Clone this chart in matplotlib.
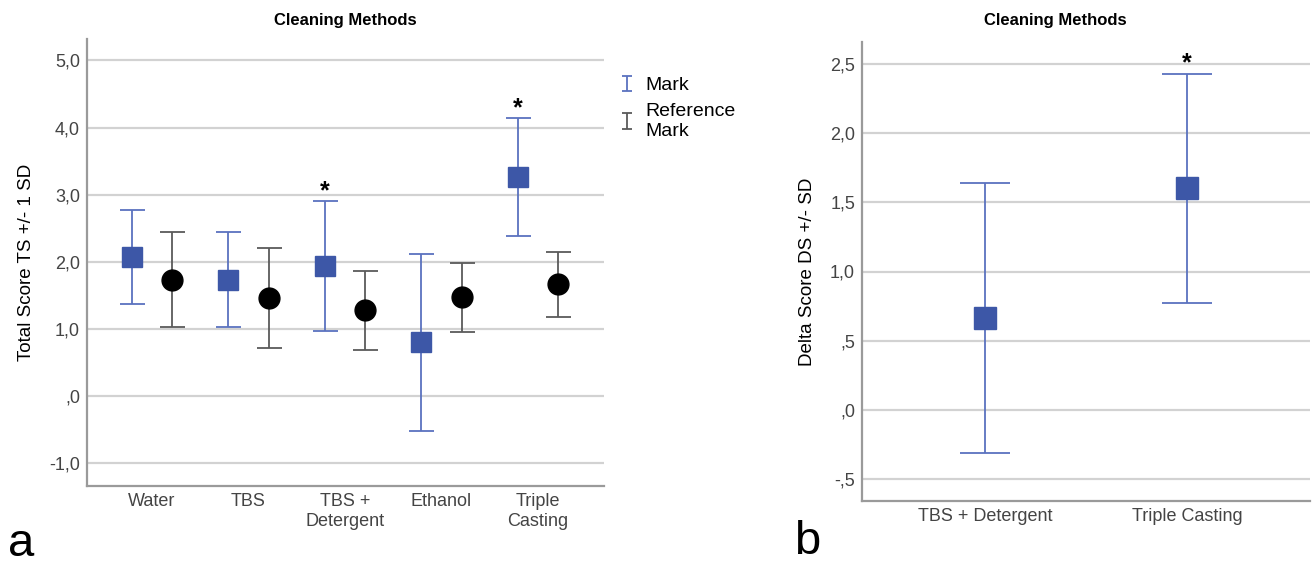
import numpy as np
import matplotlib
matplotlib.use("Agg")
import matplotlib.pyplot as plt
from matplotlib.legend_handler import HandlerErrorbar

plt.rcParams["font.family"] = ["Liberation Sans", "DejaVu Sans"]

# Data (panel a): mean and SD per cleaning method
methods_a = ["Water", "TBS", "TBS +\nDetergent", "Ethanol", "Triple\nCasting"]
mark_mean = [2.07, 1.735, 1.935, 0.80, 3.265]
mark_sd = [0.705, 0.705, 0.965, 1.32, 0.875]
ref_mean = [1.735, 1.465, 1.275, 1.47, 1.665]
ref_sd = [0.705, 0.745, 0.595, 0.52, 0.485]
star_a = [False, False, True, False, True]
yticks_a = [-1, 0, 1, 2, 3, 4, 5]
yticklabels_a = ["-1,0", ",0", "1,0", "2,0", "3,0", "4,0", "5,0"]

# Data (panel b): delta score
methods_b = ["TBS + Detergent", "Triple Casting"]
delta_mean = [0.666, 1.601]
delta_sd = [0.976, 0.831]
star_b = [False, True]
yticks_b = [-0.5, 0, 0.5, 1.0, 1.5, 2.0, 2.5]
yticklabels_b = ["-,5", ",0", ",5", "1,0", "1,5", "2,0", "2,5"]

blue = "#3d57a7"
blue_bar = "#5a72bf"
gray_bar = "#5a5a5a"
grid_c = "#d2d2d2"
spine_c = "#9a9a9a"
tick_c = "#444444"

fig = plt.figure(figsize=(13.12, 5.67), dpi=100)
ax1 = fig.add_axes([87 / 1312, 81 / 567, 517 / 1312, 447 / 567])
ax2 = fig.add_axes([862 / 1312, 66 / 567, 448 / 1312, 459 / 567])


def style_axis(ax, yticks, yticklabels):
    ax.set_yticks(yticks)
    ax.set_yticklabels(yticklabels, fontsize=13, color=tick_c)
    ax.tick_params(axis="both", length=0, pad=5)
    ax.tick_params(axis="x", pad=5, labelsize=13, labelcolor=tick_c)
    ax.grid(axis="y", color=grid_c, linewidth=1.6)
    ax.set_axisbelow(True)
    for s in ["top", "right"]:
        ax.spines[s].set_visible(False)
    for s in ["left", "bottom"]:
        ax.spines[s].set_color(spine_c)
        ax.spines[s].set_linewidth(1.6)


# Panel a
x = np.arange(len(methods_a))
off = 0.21
ax1.errorbar(x - off, mark_mean, yerr=mark_sd, fmt="none", ecolor=blue_bar,
             elinewidth=1.3, capsize=9, capthick=1.3, zorder=3)
ax1.plot(x - off, mark_mean, "s", color=blue, markersize=14.5, zorder=4)
ax1.errorbar(x + off, ref_mean, yerr=ref_sd, fmt="none", ecolor=gray_bar,
             elinewidth=1.3, capsize=9, capthick=1.3, zorder=3)
ax1.plot(x + off, ref_mean, "o", color="black", markersize=15, zorder=4)
for i, s in enumerate(star_a):
    if s:
        ax1.annotate("*", (x[i] - off, mark_mean[i] + mark_sd[i]), xytext=(0, 7),
                     textcoords="offset points", ha="center", va="center",
                     fontsize=18, fontweight="bold")
ax1.set_xticks(x)
ax1.set_xticklabels(methods_a, linespacing=1.2)
ax1.set_xlim(-0.674, 4.684)
ax1.set_ylim(-1.34, 5.32)
style_axis(ax1, yticks_a, yticklabels_a)
ax1.set_ylabel("Total Score TS +/- 1 SD", fontsize=13.5, labelpad=10)

# small I-shaped legend keys (no data)
leg_mk = ax1.errorbar([np.nan], [np.nan], yerr=[1], fmt="none", ecolor=blue_bar,
                      elinewidth=1.3, capsize=3.5, capthick=1.3)
leg_rf = ax1.errorbar([np.nan], [np.nan], yerr=[1], fmt="none", ecolor=gray_bar,
                      elinewidth=1.3, capsize=3.5, capthick=1.3)
fig.legend([leg_mk, leg_rf], ["Mark", "Reference\nMark"], loc="upper left",
           bbox_to_anchor=(614 / 1312, 1 - 69 / 567), frameon=False,
           fontsize=14, handlelength=0.5, handletextpad=0.7,
           labelspacing=0.45, borderaxespad=0,
           handler_map={type(leg_mk): HandlerErrorbar(yerr_size=0.4)})

fig.text(345 / 1312, 1 - 20 / 567, "Cleaning Methods", ha="center", va="center",
         fontsize=12, fontweight="bold")

# Panel b
xb = np.arange(len(methods_b))
ax2.errorbar(xb, delta_mean, yerr=delta_sd, fmt="none", ecolor=blue_bar,
             elinewidth=1.3, capsize=18, capthick=1.3, zorder=3)
ax2.plot(xb, delta_mean, "s", color=blue, markersize=16, zorder=4)
for i, s in enumerate(star_b):
    if s:
        ax2.annotate("*", (xb[i], delta_mean[i] + delta_sd[i]), xytext=(0, 7),
                     textcoords="offset points", ha="center", va="center",
                     fontsize=18, fontweight="bold")
ax2.set_xticks(xb)
ax2.set_xticklabels(methods_b)
ax2.set_xlim(-0.61, 1.61)
ax2.set_ylim(-0.66, 2.66)
style_axis(ax2, yticks_b, yticklabels_b)
ax2.set_ylabel("Delta Score DS +/- SD", fontsize=13.5, labelpad=10)

fig.text(1055 / 1312, 1 - 20 / 567, "Cleaning Methods", ha="center", va="center",
         fontsize=12, fontweight="bold")

# panel letters
fig.text(8 / 1312, 1 / 567, "a", fontsize=34, ha="left", va="bottom")
fig.text(794 / 1312, 3 / 567, "b", fontsize=34, ha="left", va="bottom")

fig.savefig("out.png", dpi=100)
